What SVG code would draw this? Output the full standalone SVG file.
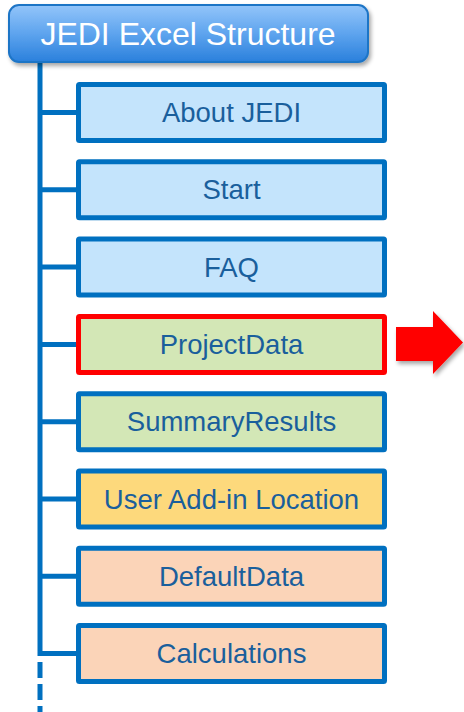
<svg xmlns="http://www.w3.org/2000/svg" width="464" height="712" viewBox="0 0 464 712">
<defs>
<linearGradient id="tg" x1="0" y1="0" x2="0" y2="1">
<stop offset="0" stop-color="#93c5fa"/>
<stop offset="0.5" stop-color="#5ea4ee"/>
<stop offset="1" stop-color="#2a80dc"/>
</linearGradient>
<filter id="sh" x="-10%" y="-20%" width="130%" height="150%">
<feGaussianBlur in="SourceAlpha" stdDeviation="2"/>
<feOffset dx="2" dy="3" result="b"/>
<feComponentTransfer><feFuncA type="linear" slope="0.35"/></feComponentTransfer>
<feMerge><feMergeNode/><feMergeNode in="SourceGraphic"/></feMerge>
</filter>
</defs>
<style>
.box{stroke:#0070c0;stroke-width:5}
.b{fill:#c4e4fc}
.g{fill:#d3e7b6}
.y{fill:#fdd97c}
.s{fill:#fbd4b8}
.lbl{font-family:"Liberation Sans",Arial,sans-serif;font-size:27.5px;fill:#1a5f9c;text-anchor:middle}
.ln{stroke:#0070c0;stroke-width:5;fill:none}
</style>
<g id="connectors">
<line class="ln" x1="40" y1="62" x2="40" y2="656"/>
<line class="ln" x1="40" y1="656" x2="40" y2="712" stroke-dasharray="16 6" stroke-dashoffset="-6"/>
<line class="ln" x1="40" y1="112.5" x2="78" y2="112.5"/>
<line class="ln" x1="40" y1="189.8" x2="78" y2="189.8"/>
<line class="ln" x1="40" y1="267.1" x2="78" y2="267.1"/>
<line class="ln" x1="40" y1="344.4" x2="78" y2="344.4"/>
<line class="ln" x1="40" y1="421.7" x2="78" y2="421.7"/>
<line class="ln" x1="40" y1="499" x2="78" y2="499"/>
<line class="ln" x1="40" y1="576.3" x2="78" y2="576.3"/>
<line class="ln" x1="40" y1="653.6" x2="78" y2="653.6"/>
</g>
<g id="title">
<rect x="9" y="5" width="359" height="57" rx="10" fill="url(#tg)" stroke="#1f74c6" stroke-width="2" filter="url(#sh)"/>
<text x="188" y="45" font-family="'Liberation Sans',Arial,sans-serif" font-size="32" fill="#ffffff" text-anchor="middle">JEDI Excel Structure</text>
</g>
<g id="about"><rect class="box b" x="78.5" y="84.5" width="306" height="56" rx="1"/><text class="lbl" x="231.5" y="122">About JEDI</text></g>
<g id="start"><rect class="box b" x="78.5" y="161.8" width="306" height="56" rx="1"/><text class="lbl" x="231.5" y="199.3">Start</text></g>
<g id="faq"><rect class="box b" x="78.5" y="239.1" width="306" height="56" rx="1"/><text class="lbl" x="231.5" y="276.6">FAQ</text></g>
<g id="projectdata"><rect class="box g" x="78.5" y="316.4" width="306" height="56" rx="1" style="stroke:#ff0000"/><text class="lbl" x="231.5" y="353.9">ProjectData</text></g>
<g id="summary"><rect class="box g" x="78.5" y="393.7" width="306" height="56" rx="1"/><text class="lbl" x="231.5" y="431.2">SummaryResults</text></g>
<g id="useraddin"><rect class="box y" x="78.5" y="471" width="306" height="56" rx="1"/><text class="lbl" x="231.5" y="508.5">User Add-in Location</text></g>
<g id="defaultdata"><rect class="box s" x="78.5" y="548.3" width="306" height="56" rx="1"/><text class="lbl" x="231.5" y="585.8">DefaultData</text></g>
<g id="calculations"><rect class="box s" x="78.5" y="625.6" width="306" height="56" rx="1"/><text class="lbl" x="231.5" y="663.1">Calculations</text></g>
<g id="arrow">
<polygon points="396,327 433,327 433,311 463,342.5 433,374 433,361 396,361" fill="#ff0000" filter="url(#sh)"/>
</g>
</svg>
